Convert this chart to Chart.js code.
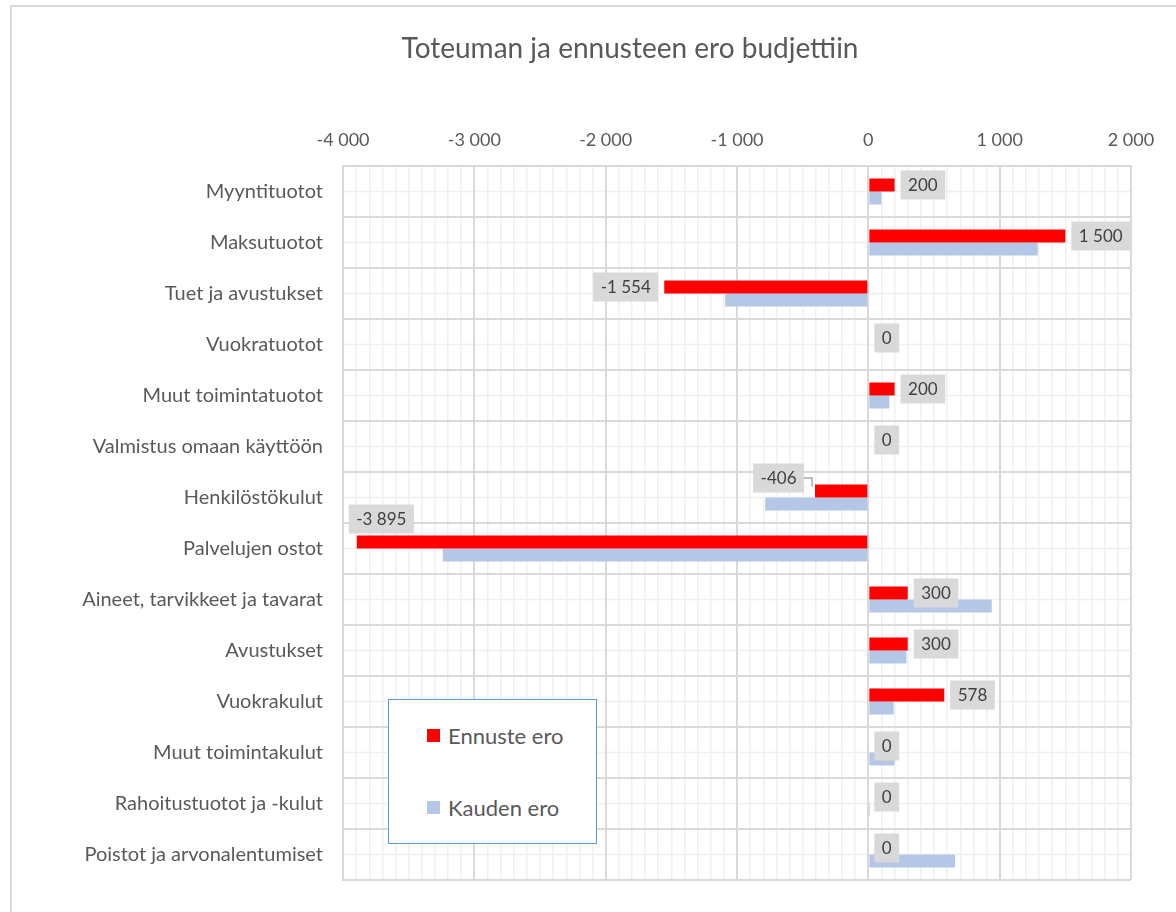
<!DOCTYPE html>
<html>
<head>
<meta charset="utf-8">
<title>Toteuman ja ennusteen ero budjettiin</title>
<script src="https://cdn.jsdelivr.net/npm/chart.js@4.4.0/dist/chart.umd.min.js"></script>
<style>
  html, body { margin: 0; padding: 0; background: #fff; }
  #wrap { position: relative; width: 1176px; height: 912px; overflow: hidden; font-family: Lato, "Noto Sans", sans-serif; }
  #frame { position: absolute; left: 10px; top: 5px; width: 1300px; height: 1000px; border-left: 2px solid #d9d9d9; border-top: 2px solid #d9d9d9; }
  #chart { position: absolute; left: 0; top: 0; }
  #title { position: absolute; left: 0; top: 30px; width: 1260px; line-height: 34px; text-align: center; font-size: 28px; color: #595959; }
  #legend { position: absolute; left: 388px; top: 699px; width: 207px; height: 143px; border: 1.5px solid #5b9bd5; background: #fff;
            display: flex; flex-direction: column; justify-content: space-around; }
  #legend .item { display: flex; align-items: center; padding-left: 38px; font-size: 22px; color: #595959; }
  #legend .sw { width: 13px; height: 13px; margin-right: 8px; }
</style>
</head>
<body>
<div id="wrap">
  <div id="frame"></div>
  <canvas id="chart" width="1176" height="912"></canvas>
  <div id="title">Toteuman ja ennusteen ero budjettiin</div>
  <div id="legend"></div>
</div>
<script>
// categories (top to bottom)
const categories = [
  'Myyntituotot', 'Maksutuotot', 'Tuet ja avustukset', 'Vuokratuotot',
  'Muut toimintatuotot', 'Valmistus omaan käyttöön', 'Henkilöstökulut',
  'Palvelujen ostot', 'Aineet, tarvikkeet ja tavarat', 'Avustukset',
  'Vuokrakulut', 'Muut toimintakulut', 'Rahoitustuotot ja -kulut',
  'Poistot ja arvonalentumiset'
];
const seriesNames = ['Ennuste ero', 'Kauden ero'];
const ennusteEro = [200, 1500, -1554, 0, 200, 0, -406, -3895, 300, 300, 578, 0, 0, 0];
const kaudenEro  = [100, 1290, -1090, 0, 160, 0, -785, -3240, 940, 290, 193, 200, 12, 660];
const axisMin = -4000, axisMax = 2000, majorStep = 1000, minorStep = 100;
const seriesColors = ['#ff0000', '#b4c7e7'];

const FONT = 'Lato, "Noto Sans", sans-serif';

// "1 500", "-3 895"
function fmt(v) {
  const s = Math.abs(Math.round(v)).toString().replace(/\B(?=(\d{3})+(?!\d))/g, ' ');
  return (v < 0 ? '-' : '') + s;
}

// light lines through the middle of each category row
const minorRows = {
  id: 'minorRows',
  beforeDraw(chart) {
    const { ctx, chartArea } = chart;
    const y = chart.scales.y;
    ctx.save();
    ctx.strokeStyle = '#f0f0f0';
    ctx.lineWidth = 1.5;
    categories.forEach((c, i) => {
      const py = y.getPixelForValue(i);
      ctx.beginPath();
      ctx.moveTo(chartArea.left, py);
      ctx.lineTo(chartArea.right, py);
      ctx.stroke();
    });
    ctx.restore();
  }
};

// grey value boxes on the red series
const valueBoxes = {
  id: 'valueBoxes',
  afterDatasetsDraw(chart, args, opts) {
    const { ctx, chartArea } = chart;
    const meta = chart.getDatasetMeta(0);
    ctx.save();
    ctx.font = '17px ' + FONT;
    ctx.textBaseline = 'middle';
    ctx.textAlign = 'left';
    meta.data.forEach((bar, i) => {
      const v = ennusteEro[i];
      const txt = fmt(v);
      const w = ctx.measureText(txt).width + 15, h = 29;
      let bx, cy = bar.y;
      if (v >= 0) {
        bx = Math.max(bar.x, bar.base) + 6;
      } else {
        bx = bar.x - 6 - w;
      }
      const nudge = opts.nudges[i];
      if (bx < chartArea.left) {
        // does not fit on the left: put it above the bar end
        bx = bar.x - 8;
        cy = bar.y - bar.height / 2 - 2 - h / 2;
      } else if (nudge) {
        bx += nudge.dx;
        cy += nudge.dy;
        ctx.strokeStyle = '#a6a6a6';
        ctx.lineWidth = 1.5;
        ctx.beginPath();
        ctx.moveTo(bx + w, cy);
        ctx.lineTo(bar.x - 3, cy);
        ctx.lineTo(bar.x - 3, bar.y - bar.height / 2 + 2);
        ctx.stroke();
      }
      ctx.fillStyle = '#d9d9d9';
      ctx.fillRect(bx, cy - h / 2, w, h);
      ctx.fillStyle = '#404040';
      ctx.fillText(txt, bx + 7.5, cy + 1);
    });
    ctx.restore();
  }
};

const chart = new Chart(document.getElementById('chart').getContext('2d'), {
  type: 'bar',
  data: {
    labels: categories,
    datasets: [
      { label: seriesNames[0], data: ennusteEro, backgroundColor: seriesColors[0] },
      { label: seriesNames[1], data: kaudenEro, backgroundColor: seriesColors[1] }
    ]
  },
  options: {
    indexAxis: 'y',
    responsive: false,
    animation: false,
    categoryPercentage: 0.51,
    barPercentage: 1,
    layout: { padding: { left: 0, right: 45, top: 0, bottom: 30 } },
    plugins: {
      legend: { display: false },
      tooltip: { enabled: false },
      title: { display: false },
      valueBoxes: { nudges: { 6: { dx: -5, dy: -13 } } }
    },
    scales: {
      x: {
        position: 'top',
        min: axisMin,
        max: axisMax,
        afterFit(scale) { scale.height = 166; },
        ticks: {
          stepSize: minorStep,
          autoSkip: false,
          maxRotation: 0,
          padding: 15,
          color: '#595959',
          font: { family: FONT, size: 18 },
          callback: v => (v % majorStep === 0 ? fmt(v) : '')
        },
        grid: {
          drawTicks: false,
          color: c => (c.tick && c.tick.value % majorStep === 0 ? '#d9d9d9' : '#f0f0f0'),
          lineWidth: c => (c.tick && c.tick.value % majorStep === 0 ? 2 : 1.5)
        },
        border: { color: '#d9d9d9', width: 2 }
      },
      y: {
        afterFit(scale) { scale.width = 343; },
        ticks: {
          padding: 20,
          color: '#595959',
          font: { family: FONT, size: 20 }
        },
        grid: { drawTicks: false, color: '#d9d9d9', lineWidth: 2 },
        border: { color: '#d9d9d9', width: 2 }
      }
    }
  },
  plugins: [minorRows, valueBoxes]
});

// legend box inside the plot
const legend = document.getElementById('legend');
chart.data.datasets.forEach(ds => {
  const item = document.createElement('div');
  item.className = 'item';
  const sw = document.createElement('span');
  sw.className = 'sw';
  sw.style.background = ds.backgroundColor;
  item.appendChild(sw);
  item.appendChild(document.createTextNode(ds.label));
  legend.appendChild(item);
});
</script>
</body>
</html>
